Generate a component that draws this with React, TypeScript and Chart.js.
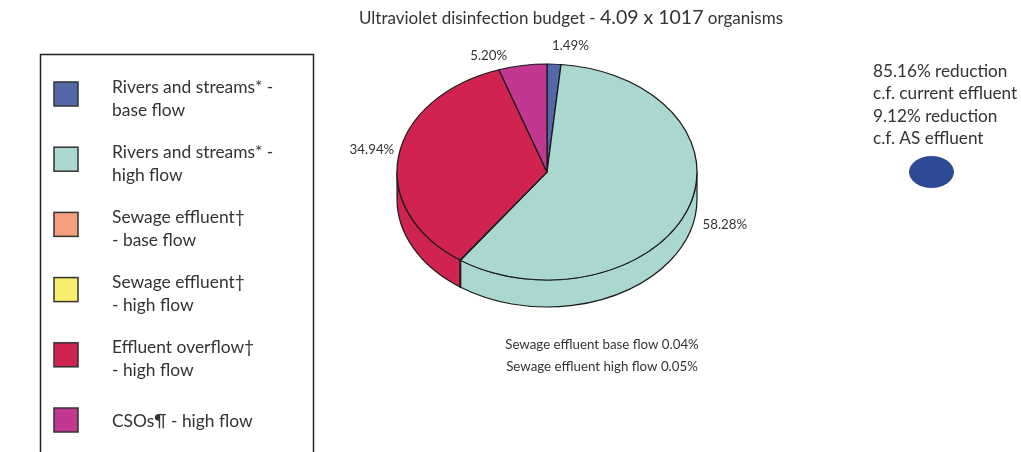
import React, { useEffect, useRef } from 'react';
import { Chart, registerables } from 'chart.js';

Chart.register(...registerables);

// ---- data ----
const categories = [
  'Rivers and streams* -\nbase flow',
  'Rivers and streams* -\nhigh flow',
  'Sewage effluent†\n- base flow',
  'Sewage effluent†\n- high flow',
  'Effluent overflow†\n- high flow',
  'CSOs¶ - high flow',
];
const shares = [1.49, 58.28, 0.04, 0.05, 34.94, 5.2];
const sliceColors = ['#5468a8', '#aad8d1', '#f4a07f', '#f8ee6c', '#d02350', '#c23790'];
const titleParts = ['Ultraviolet disinfection budget - ', '4.09 x 1017', ' organisms'];
const reductionNotes = ['85.16% reduction', 'c.f. current effluent', '9.12% reduction', 'c.f. AS effluent'];
const smallSliceNames = ['Sewage effluent base flow', 'Sewage effluent high flow'];
const smallSliceIndex = [2, 3];
const labelledSlices = [0, 1, 4, 5];

// ---- styles ----
const W = 1021;
const H = 452;
const TILT = 0.72;
const DEPTH = 27;
const FONT = 'Lato, "Open Sans", sans-serif';
const TEXT = '#333333';
const labelNudges: Record<number, [number, number]> = { 0: [15, 3], 1: [9, 8], 4: [3, -3], 5: [-29, 12] };

const pie3d = {
  id: 'pie3d',
  beforeDatasetsDraw(chart: any) {
    const ctx = chart.ctx as CanvasRenderingContext2D;
    const arcs = chart.getDatasetMeta(0).data;
    let cy = 0;
    arcs.forEach((arc: any, i: number) => {
      const p = arc.getProps(['x', 'y', 'startAngle', 'endAngle', 'outerRadius'], true);
      cy = p.y;
      const a0 = Math.max(p.startAngle, 0);
      const a1 = Math.min(p.endAngle, Math.PI);
      if (a1 <= a0) return;
      const r = p.outerRadius;
      ctx.beginPath();
      ctx.ellipse(p.x, p.y, r, r * TILT, 0, a0, a1);
      ctx.ellipse(p.x, p.y + DEPTH, r, r * TILT, 0, a1, a0, true);
      ctx.closePath();
      ctx.fillStyle = sliceColors[i];
      ctx.fill();
      ctx.lineWidth = 1.2;
      ctx.strokeStyle = '#1a1a1a';
      ctx.stroke();
    });
    ctx.save();
    ctx.translate(0, cy);
    ctx.scale(1, TILT);
    ctx.translate(0, -cy);
  },
  afterDatasetsDraw(chart: any) {
    chart.ctx.restore();
  },
  afterDraw(chart: any) {
    const ctx = chart.ctx as CanvasRenderingContext2D;
    ctx.save();
    ctx.fillStyle = TEXT;
    ctx.textBaseline = 'middle';

    // title
    const f1 = `17px ${FONT}`;
    const f2 = `19.5px ${FONT}`;
    ctx.font = f1;
    const w1 = ctx.measureText(titleParts[0]).width;
    const w3 = ctx.measureText(titleParts[2]).width;
    ctx.font = f2;
    const w2 = ctx.measureText(titleParts[1]).width;
    let tx = 571 - (w1 + w2 + w3) / 2;
    ctx.textAlign = 'left';
    ctx.font = f1;
    ctx.fillText(titleParts[0], tx, 19);
    tx += w1;
    ctx.font = f2;
    ctx.fillText(titleParts[1], tx, 18);
    tx += w2;
    ctx.font = f1;
    ctx.fillText(titleParts[2], tx, 19);

    // slice labels
    const arcs = chart.getDatasetMeta(0).data;
    ctx.font = `13.3px ${FONT}`;
    ctx.textAlign = 'center';
    labelledSlices.forEach((i) => {
      const p = arcs[i].getProps(['x', 'y', 'startAngle', 'endAngle', 'outerRadius'], true);
      const mid = (p.startAngle + p.endAngle) / 2;
      const n = labelNudges[i] || [0, 0];
      const lx = p.x + p.outerRadius * 1.2 * Math.cos(mid) + n[0];
      const ly = p.y + p.outerRadius * TILT * 1.2 * Math.sin(mid) + n[1];
      ctx.fillText(`${shares[i].toFixed(2)}%`, lx, ly);
    });

    // small slice notes
    smallSliceIndex.forEach((idx, k) => {
      ctx.fillText(`${smallSliceNames[k]} ${shares[idx].toFixed(2)}%`, 602, 345 + k * 22);
    });

    // legend
    ctx.lineWidth = 1.5;
    ctx.strokeStyle = '#222';
    ctx.strokeRect(40.5, 54.5, 273, 420);
    ctx.font = `17.4px ${FONT}`;
    ctx.textAlign = 'left';
    categories.forEach((cat, i) => {
      const cyy = 94 + i * 65.2;
      ctx.fillStyle = sliceColors[i];
      ctx.fillRect(54, cyy - 12, 24, 24);
      ctx.lineWidth = 1.5;
      ctx.strokeStyle = '#333';
      ctx.strokeRect(54, cyy - 12, 24, 24);
      ctx.fillStyle = TEXT;
      const lines = cat.split('\n');
      if (lines.length === 1) {
        ctx.fillText(lines[0], 112, cyy + 1);
      } else {
        ctx.fillText(lines[0], 112, cyy - 7);
        ctx.fillText(lines[1], 112, cyy + 16);
      }
    });

    // reduction notes
    ctx.font = `17.2px ${FONT}`;
    reductionNotes.forEach((t, i) => {
      ctx.fillText(t, 873, 71 + i * 22.5);
    });
    ctx.fillStyle = '#2e4a97';
    ctx.beginPath();
    ctx.ellipse(931.5, 172, 22.5, 16, 0, 0, Math.PI * 2);
    ctx.fill();
    ctx.restore();
  },
};

export default function App() {
  const ref = useRef<HTMLCanvasElement | null>(null);
  useEffect(() => {
    if (!ref.current) return;
    const chart = new Chart(ref.current, {
      type: 'pie',
      data: {
        labels: categories.map((c) => c.replace('\n', ' ')),
        datasets: [
          {
            data: shares,
            backgroundColor: sliceColors,
            borderColor: '#1a1a1a',
            borderWidth: 1.3,
            radius: 150,
            clip: false,
          } as any,
        ],
      },
      options: {
        responsive: false,
        animation: false,
        events: [],
        layout: { padding: { left: 397, right: W - 697, top: 22, bottom: H - 322 } },
        plugins: { legend: { display: false }, tooltip: { enabled: false }, title: { display: false } },
      },
      plugins: [pie3d],
    });
    return () => chart.destroy();
  }, []);
  return (
    <div style={{ position: 'fixed', left: 0, top: 0, width: W, height: H, background: '#fff' }}>
      <canvas ref={ref} width={W} height={H} style={{ width: W, height: H }} />
    </div>
  );
}
